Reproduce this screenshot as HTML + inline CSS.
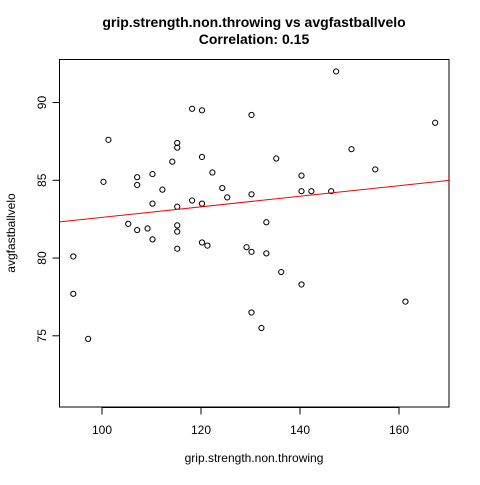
<!DOCTYPE html>
<html><head><meta charset="utf-8"><style>
body{margin:0;background:#fff;}
svg text{font-family:"Liberation Sans",Arial,sans-serif;}
</style></head><body>
<svg id="chart" width="480" height="480">
<text x="254" y="27" text-anchor="middle" font-size="14" font-weight="bold">grip.strength.non.throwing vs avgfastballvelo</text>
<text x="254" y="44" text-anchor="middle" font-size="14" font-weight="bold">Correlation: 0.15</text>
<rect x="59.5" y="59.5" width="389.5" height="347.5" fill="none" stroke="#000"/>
<g id="xaxis"></g>
<g id="yaxis"></g>
<text x="254" y="462" text-anchor="middle" font-size="12">grip.strength.non.throwing</text>
<text transform="translate(15,233) rotate(-90)" text-anchor="middle" font-size="12">avgfastballvelo</text>
<g id="pts"></g>
</svg>
<script>
const xs=[118.2,120.2,130.2,101.3,115.2,115.2,114.2,120.2,122.3,107.1,107.1,110.2,100.3,112.2,124.3,125.3,130.2,110.2,118.2,120.2,115.2,105.3,107.1,109.2,115.2,115.2,110.2,115.2,120.2,121.3,129.2,130.2,94.2,94.2,97.2,130.2,147.3,167.3,135.2,150.4,155.2,140.3,140.3,142.3,146.3,133.2,133.2,136.2,140.3,161.3,132.2];
const ys=[89.6,89.5,89.2,87.6,87.4,87.1,86.2,86.5,85.5,85.2,84.7,85.4,84.9,84.4,84.5,83.9,84.1,83.5,83.7,83.5,83.3,82.2,81.8,81.9,82.1,81.7,81.2,80.6,81.0,80.8,80.7,80.4,80.1,77.7,74.8,76.5,92.0,88.7,86.4,87.0,85.7,85.3,84.3,84.3,84.3,82.3,80.3,79.1,78.3,77.2,75.5];
const xTicks=[100,120,140,160];
const yTicks=[75,80,85,90];
const NS="http://www.w3.org/2000/svg";
function X(v){return 102+(v-100)*4.95;}
function Y(v){return 180.3-(v-85)*15.55;}
function mk(t,a,p){const e=document.createElementNS(NS,t);for(const k in a)e.setAttribute(k,a[k]);p.appendChild(e);return e;}
const xa=document.getElementById('xaxis'),ya=document.getElementById('yaxis'),pg=document.getElementById('pts');
mk('line',{x1:X(xTicks[0]),x2:X(xTicks[xTicks.length-1]),y1:407.5,y2:407.5,stroke:'#000'},xa);
xTicks.forEach(t=>{
 const l=mk('line',{x1:X(t),x2:X(t),y1:407.5,y2:414.5,stroke:'#000'},xa);
 
 
 const s=mk('text',{x:X(t),y:434,'text-anchor':'middle','font-size':12},xa);s.textContent=t;
 
 
});
mk('line',{x1:59.5,x2:59.5,y1:Y(yTicks[0]),y2:Y(yTicks[yTicks.length-1]),stroke:'#000'},ya);
yTicks.forEach(t=>{
 const l=mk('line',{x1:52.5,x2:59.5,y1:Y(t),y2:Y(t),stroke:'#000'},ya);
 
 
 const s=mk('text',{transform:`translate(46,${Y(t)}) rotate(-90)`,'text-anchor':'middle','font-size':12},ya);s.textContent=t;
 
 
});
xs.forEach((x,i)=>{
 const c=mk('circle',{cx:X(x),cy:Y(ys[i]),r:2.6,fill:'none',stroke:'#000','stroke-width':1},pg);
 
 
});
// regression line
const n=xs.length,mx=xs.reduce((a,b)=>a+b)/n,my=ys.reduce((a,b)=>a+b)/n;
let sxy=0,sxx=0;xs.forEach((x,i)=>{sxy+=(x-mx)*(ys[i]-my);sxx+=(x-mx)*(x-mx);});
const b=sxy/sxx,a=my-b*mx,x0=91.4,x1=170.1;
const rl=mk('line',{x1:59.5,x2:449,y1:Y(a+b*x0),y2:Y(a+b*x1),stroke:'#f00','stroke-width':1},document.getElementById('chart'));


</script>
</body></html>
